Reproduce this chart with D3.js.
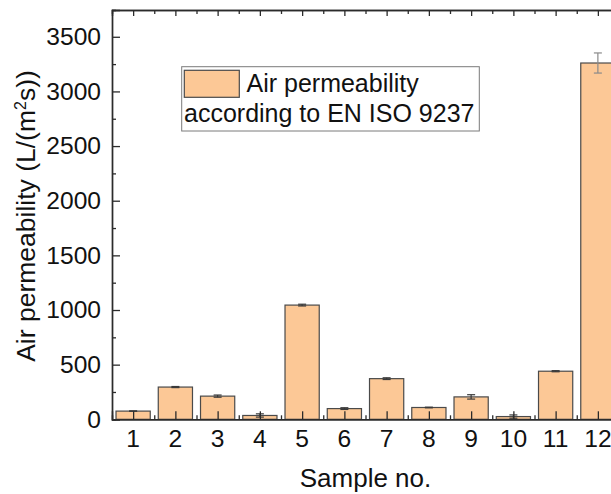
<!DOCTYPE html>
<html>
<head>
<meta charset="utf-8">
<script src="https://cdn.jsdelivr.net/npm/d3@7"></script>
<style>
  html, body { margin: 0; padding: 0; background: #fff; }
  svg { display: block; }
  text { font-family: "Liberation Sans", Arial, sans-serif; fill: #111; }
</style>
</head>
<body>
<svg id="chart" width="611" height="494"></svg>
<script>
// Air permeability per sample (EN ISO 9237), mean and standard deviation
const samples = [1, 2, 3, 4, 5, 6, 7, 8, 9, 10, 11, 12];
const permeability = [75, 295, 212, 35, 1045, 98, 372, 108, 205, 25, 440, 3260];
const deviation = [2, 5, 10, 15, 8, 8, 8, 3, 20, 15, 5, 92];
const yTicks = [0, 500, 1000, 1500, 2000, 2500, 3000, 3500];
const legendLines = ["Air permeability", "according to EN ISO 9237"];
const xTitle = "Sample no.";

const svg = d3.select("#chart");
const plotLeft = 112, plotTop = 10, plotBottom = 419.3;

const x = d3.scaleLinear().domain([0.5, 12.5]).range([plotLeft, 619]);
const y = d3.scaleLinear().domain([0, 3745]).range([plotBottom, plotTop]);
const step = x(2) - x(1);
const barW = step * 0.81;

const barFill = "#fcc896";
const axisColor = "#2b2b2b";
const tickFont = 23, tickSX = 1.07;

// bars
svg.append("g").selectAll("rect")
  .data(samples)
  .join("rect")
  .attr("x", (d) => x(d) - barW / 2)
  .attr("y", (d, i) => y(permeability[i]))
  .attr("width", barW)
  .attr("height", (d, i) => y(0) - y(permeability[i]))
  .attr("fill", barFill)
  .attr("stroke", "#4a4a4a")
  .attr("stroke-width", 1.2);

// error bars
const err = svg.append("g").attr("stroke-width", 1.2).attr("fill", "none");
samples.forEach((s, i) => {
  const cx = x(s), hi = y(permeability[i] + deviation[i]), lo = y(permeability[i] - deviation[i]);
  const col = i === 11 ? "#8a8a8a" : "#3a3a3a";
  err.append("line").attr("x1", cx).attr("x2", cx).attr("y1", hi).attr("y2", lo).attr("stroke", col);
  err.append("line").attr("x1", cx - 4).attr("x2", cx + 4).attr("y1", hi).attr("y2", hi).attr("stroke", col);
  err.append("line").attr("x1", cx - 4).attr("x2", cx + 4).attr("y1", lo).attr("y2", lo).attr("stroke", col);
});

// axes drawn over the bars, ticks pointing inward
const halfSteps = d3.range(1.5, 12.5, 1);
const minorY = d3.range(250, 3745, 500);

const bottomAxis = svg.append("g").attr("transform", `translate(0,${plotBottom})`)
  .call(d3.axisBottom(x).tickValues(samples).tickSize(-8).tickFormat(""));
const bottomMinor = svg.append("g").attr("transform", `translate(0,${plotBottom})`)
  .call(d3.axisBottom(x).tickValues(halfSteps).tickSize(-4).tickFormat(""));
const topAxis = svg.append("g").attr("transform", `translate(0,${plotTop})`)
  .call(d3.axisTop(x).tickValues(samples).tickSize(-6).tickFormat(""));
const topMinor = svg.append("g").attr("transform", `translate(0,${plotTop})`)
  .call(d3.axisTop(x).tickValues(halfSteps).tickSize(-4).tickFormat(""));
const leftAxis = svg.append("g").attr("transform", `translate(${plotLeft},0)`)
  .call(d3.axisLeft(y).tickValues(yTicks).tickSize(-8).tickFormat(""));
const leftMinor = svg.append("g").attr("transform", `translate(${plotLeft},0)`)
  .call(d3.axisLeft(y).tickValues(minorY).tickSize(-4).tickFormat(""));

[bottomAxis, bottomMinor, topAxis, topMinor, leftAxis, leftMinor].forEach((g) => {
  g.selectAll(".domain").attr("stroke", axisColor).attr("stroke-width", 1.4);
  g.selectAll(".tick line").attr("stroke", axisColor).attr("stroke-width", 1.3);
});

// tick labels (slightly widened glyphs)
svg.append("g").selectAll("text")
  .data(samples)
  .join("text")
  .attr("transform", (d) => `translate(${x(d)},447) scale(${tickSX},1)`)
  .attr("text-anchor", "middle")
  .attr("font-size", tickFont)
  .text((d) => d);

svg.append("g").selectAll("text")
  .data(yTicks)
  .join("text")
  .attr("transform", (d) => `translate(101,${y(d) + 8.2}) scale(${tickSX},1)`)
  .attr("text-anchor", "end")
  .attr("font-size", tickFont)
  .text((d) => d);

// axis titles
svg.append("text")
  .attr("x", (x(1) + x(12)) / 2)
  .attr("y", 487)
  .attr("text-anchor", "middle")
  .attr("font-size", 26)
  .text(xTitle);

const yt = svg.append("text")
  .attr("transform", `translate(35,216) rotate(-90)`)
  .attr("text-anchor", "middle")
  .attr("font-size", 26.5);
yt.append("tspan").text("Air permeability (L/(m");
yt.append("tspan").attr("font-size", 16).attr("dy", -9).text("2");
yt.append("tspan").attr("dy", 9).text("s))");

// legend
const lg = svg.append("g");
lg.append("rect")
  .attr("x", 181.7).attr("y", 66.7).attr("width", 297.6).attr("height", 64.3)
  .attr("fill", "#fff").attr("stroke", "#7a7a7a").attr("stroke-width", 1);
lg.append("rect")
  .attr("x", 184.3).attr("y", 70.3).attr("width", 55).attr("height", 27)
  .attr("fill", barFill).attr("stroke", "#4a4a4a").attr("stroke-width", 1.2);
lg.append("text").attr("x", 246.5).attr("y", 91.5).attr("font-size", 25).text(legendLines[0]);
lg.append("text").attr("x", 184).attr("y", 121.7).attr("font-size", 25).text(legendLines[1]);
</script>
</body>
</html>
